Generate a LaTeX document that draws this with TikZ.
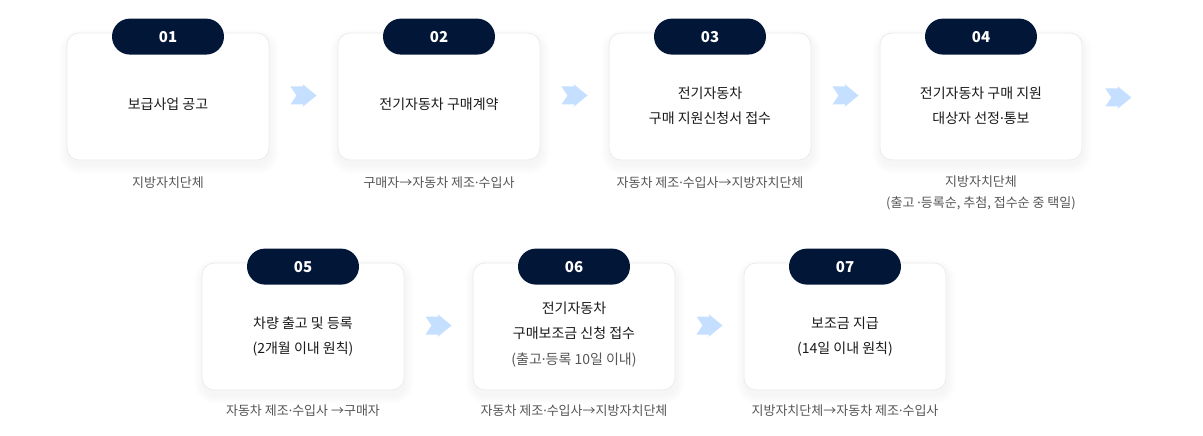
\documentclass[tikz,border=0pt]{standalone}
\usepackage{fontspec}
\setmainfont{Noto Sans CJK KR}
\newfontfamily\latinfont{Noto Sans}
\newcommand\md{{\latinfont ·}}
\definecolor{navy}{HTML}{021638}
\definecolor{arrowblue}{HTML}{C4DFFF}
\definecolor{maintxt}{HTML}{1A1A1A}
\definecolor{subtxt}{HTML}{555555}
\definecolor{cardline}{HTML}{EBEBEB}
\tikzset{
  card/.style={draw=cardline, line width=0.8pt, fill=white, rounded corners=12pt,
    minimum width=202pt, minimum height=127pt, inner sep=0pt},
  badge/.style={fill=navy, rounded corners=18pt, minimum width=112pt, minimum height=36pt,
    inner sep=0pt, text=white, font=\fontsize{15pt}{18pt}\selectfont\bfseries},
  maintext/.style={text=maintxt, align=center, font=\fontsize{14pt}{25.5pt}\selectfont},
  subtext/.style={text=subtxt, align=center, font=\fontsize{13pt}{21pt}\selectfont},
  flowarrow/.pic={\fill[arrowblue] (-13,-9) -- (0,-9) -- (-1,-11.5) -- (13,0) -- (-1,11.5) -- (0,9) -- (-13,9) -- (-7,0) -- cycle;}
}
\newcommand\cardshadow[2]{%
  \foreach \i in {1,...,9}{%
    \fill[black, opacity=0.0045, rounded corners={12pt+\i pt}]
      ({#1-101-\i+1},{#2-63.5-\i+5}) rectangle ({#1+101+\i+1},{#2+63.5+\i+5});
  }}
\begin{document}
\begin{tikzpicture}[x=1pt,y=-1pt]
\useasboundingbox (0,0) rectangle (1203,436);
% shadows
\cardshadow{168}{96.5}
\cardshadow{439}{96.5}
\cardshadow{710}{96.5}
\cardshadow{981}{96.5}
\cardshadow{303}{326.5}
\cardshadow{574}{326.5}
\cardshadow{845}{326.5}
% cards
\node[card] (c1) at (168,96.5) {};
\node[card] (c2) at (439,96.5) {};
\node[card] (c3) at (710,96.5) {};
\node[card] (c4) at (981,96.5) {};
\node[card] (c5) at (303,326.5) {};
\node[card] (c6) at (574,326.5) {};
\node[card] (c7) at (845,326.5) {};
% badges
\node[badge] (b1) at ([yshift=-4pt]c1.north) {01};
\node[badge] (b2) at ([yshift=-4pt]c2.north) {02};
\node[badge] (b3) at ([yshift=-4pt]c3.north) {03};
\node[badge] (b4) at ([yshift=-4pt]c4.north) {04};
\node[badge] (b5) at ([yshift=-4pt]c5.north) {05};
\node[badge] (b6) at ([yshift=-4pt]c6.north) {06};
\node[badge] (b7) at ([yshift=-4pt]c7.north) {07};
% main texts
\node[maintext] (t1) at ([yshift=-7.5pt]c1.center) {보급사업 공고};
\node[maintext] (t2) at ([yshift=-7.5pt]c2.center) {전기자동차 구매계약};
\node[maintext] (t3) at ([yshift=-9.5pt]c3.center) {전기자동차\\구매 지원신청서 접수};
\node[maintext] (t4) at ([yshift=-9.5pt]c4.center) {전기자동차 구매 지원\\대상자 선정\md 통보};
\node[maintext] (t5) at ([yshift=-10pt]c5.center) {차량 출고 및 등록\\(2개월 이내 원칙)};
\node[maintext] (t6) at ([yshift=-8pt]c6.center) {전기자동차\\구매보조금 신청 접수\\{\color{subtxt}(출고\md 등록 10일 이내)}};
\node[maintext] (t7) at ([yshift=-10pt]c7.center) {보조금 지급\\(14일 이내 원칙)};
% sub labels
\node[subtext] (s1) at ([yshift=-22pt]c1.south) {지방자치단체};
\node[subtext] (s2) at ([yshift=-22pt]c2.south) {구매자→자동차 제조\md 수입사};
\node[subtext] (s3) at ([yshift=-22pt]c3.south) {자동차 제조\md 수입사→지방자치단체};
\node[subtext] (s4) at ([yshift=-32.5pt]c4.south) {지방자치단체\\(출고 \md 등록순, 추첨, 접수순 중 택일)};
\node[subtext] (s5) at ([yshift=-20pt]c5.south) {자동차 제조\md 수입사 →구매자};
\node[subtext] (s6) at ([yshift=-20pt]c6.south) {자동차 제조\md 수입사→지방자치단체};
\node[subtext] (s7) at ([yshift=-20pt]c7.south) {지방자치단체→자동차 제조\md 수입사};
% arrows
\path (c1.east) -- (c2.west) coordinate[midway] (a12);
\path (c2.east) -- (c3.west) coordinate[midway] (a23);
\path (c3.east) -- (c4.west) coordinate[midway] (a34);
\coordinate (a4x) at ([xshift=36pt,yshift=-1pt]c4.east);
\path (c5.east) -- (c6.west) coordinate[midway] (a56);
\path (c6.east) -- (c7.west) coordinate[midway] (a67);
\pic at ([yshift=1pt]a12) {flowarrow};
\pic at ([yshift=1pt]a23) {flowarrow};
\pic at ([yshift=1pt]a34) {flowarrow};
\pic at (a4x) {flowarrow};
\pic at ([yshift=1pt]a56) {flowarrow};
\pic at ([yshift=1pt]a67) {flowarrow};
\end{tikzpicture}
\end{document}
